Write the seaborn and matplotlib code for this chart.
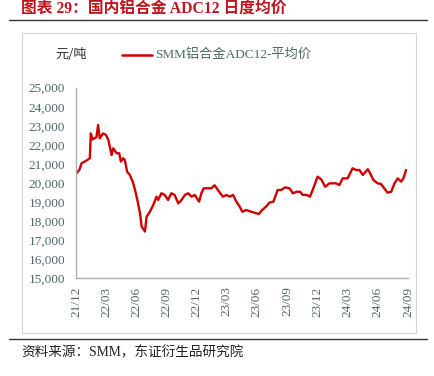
import pandas as pd
import matplotlib
matplotlib.use("Agg")
import matplotlib.pyplot as plt
import matplotlib.dates as mdates
from matplotlib.lines import Line2D
from matplotlib.patches import Rectangle
import seaborn as sns

# --- dados (valores aproximados) ---
datas = [
    "2021-12-01", "2021-12-10", "2021-12-17", "2022-01-03", "2022-01-11",
    "2022-01-14", "2022-01-19", "2022-01-31", "2022-02-05", "2022-02-10",
    "2022-02-20", "2022-03-01", "2022-03-08", "2022-03-18", "2022-03-23",
    "2022-04-02", "2022-04-10", "2022-04-15", "2022-04-22", "2022-04-27",
    "2022-05-04", "2022-05-12", "2022-05-21", "2022-05-28", "2022-06-04",
    "2022-06-12", "2022-06-17", "2022-06-27", "2022-07-02", "2022-07-12",
    "2022-07-22", "2022-08-01", "2022-08-06", "2022-08-16", "2022-08-26",
    "2022-09-05", "2022-09-15", "2022-09-25", "2022-10-06", "2022-10-16",
    "2022-10-26", "2022-11-05", "2022-11-15", "2022-11-25", "2022-12-08",
    "2022-12-15", "2022-12-22", "2023-01-04", "2023-01-14", "2023-01-24",
    "2023-02-03", "2023-02-18", "2023-03-01", "2023-03-11", "2023-03-21",
    "2023-03-31", "2023-04-10", "2023-04-18", "2023-04-30", "2023-05-15",
    "2023-05-25", "2023-06-07", "2023-06-17", "2023-06-29", "2023-07-09",
    "2023-07-21", "2023-08-03", "2023-08-13", "2023-08-26", "2023-09-08",
    "2023-09-18", "2023-09-30", "2023-10-10", "2023-10-18", "2023-10-30",
    "2023-11-09", "2023-11-19", "2023-12-02", "2023-12-13", "2023-12-25",
    "2024-01-07", "2024-01-27", "2024-02-06", "2024-02-16", "2024-03-02",
    "2024-03-17", "2024-03-28", "2024-04-07", "2024-04-17", "2024-05-02",
    "2024-05-09", "2024-05-19", "2024-06-01", "2024-06-11", "2024-06-21",
    "2024-07-01", "2024-07-12", "2024-07-22", "2024-08-01", "2024-08-11",
    "2024-08-18", "2024-08-26",
]
precos = [
    20500, 20680, 21030, 21200, 21300,
    22600, 22290, 22400, 23040, 22340,
    22600, 22520, 22260, 21470, 21820,
    21560, 21560, 21120, 21300, 21200,
    20590, 20420, 20070, 19630, 19110,
    18410, 17710, 17450, 18230, 18490,
    18840, 19280, 19110, 19460, 19370,
    19110, 19460, 19370, 18930, 19110,
    19370, 19460, 19280, 19370, 19020,
    19460, 19720, 19720, 19720, 19880,
    19630, 19280, 19370, 19280, 19370,
    19020, 18760, 18490, 18580, 18490,
    18440, 18370, 18580, 18760, 18970,
    19020, 19630, 19630, 19770, 19720,
    19460, 19540, 19540, 19370, 19370,
    19280, 19720, 20330, 20190, 19800,
    19980, 19980, 19890, 20240, 20240,
    20770, 20680, 20680, 20420, 20720,
    20510, 20160, 19980, 19950, 19720,
    19490, 19540, 19980, 20240, 20070,
    20240, 20680,
]
ticks_x = ["2021-12-01", "2022-03-01", "2022-06-01", "2022-09-01",
           "2022-12-01", "2023-03-01", "2023-06-01", "2023-09-01",
           "2023-12-01", "2024-03-01", "2024-06-01", "2024-09-01"]
ticks_y = [15000, 16000, 17000, 18000, 19000, 20000,
           21000, 22000, 23000, 24000, 25000]

titulo = "图表 29：国内铝合金 ADC12 日度均价"
unidade = "元/吨"
serie = "SMM铝合金ADC12-平均价"
fonte = "资料来源：SMM，东证衍生品研究院"

df = pd.DataFrame({"data": pd.to_datetime(datas), "preco": precos})

sns.set_theme(style="white")
plt.rcParams["font.family"] = ["Liberation Serif", "Noto Sans CJK SC", "DejaVu Sans"]

COR_TEXTO = "#4f6868"
COR_LINHA = "#d00000"
COR_EIXO = "#a8b0b0"

fig = plt.figure(figsize=(4.35, 3.76), dpi=100)
ax = fig.add_axes([0.1754, 0.26, 0.7626, 0.5068])

sns.lineplot(data=df, x="data", y="preco", ax=ax, color=COR_LINHA, linewidth=1.7)

ax.set_xlim(pd.Timestamp(ticks_x[0]), pd.Timestamp(ticks_x[-1]))
ax.set_ylim(ticks_y[0], ticks_y[-1])
ax.set_xticks(pd.to_datetime(ticks_x))
ax.xaxis.set_major_formatter(mdates.DateFormatter("%y/%m"))
ax.set_yticks(ticks_y)
ax.set_yticklabels([f"{v:,}" for v in ticks_y])
ax.set_xlabel("")
ax.set_ylabel("")

for lado in ["top", "right"]:
    ax.spines[lado].set_visible(False)
for lado in ["left", "bottom"]:
    ax.spines[lado].set_color(COR_EIXO)
    ax.spines[lado].set_linewidth(1.0)

ax.tick_params(axis="both", direction="in", length=4, width=0.9, color=COR_EIXO,
               labelcolor=COR_TEXTO, labelsize=9.5)
ax.tick_params(axis="x", rotation=90, pad=6)
ax.tick_params(axis="y", pad=8)

# unidade e legenda
fig.text(55 / 435, 1 - 55 / 376, unidade, fontsize=9.5, color="#333333",
         va="center", ha="left", family=["Noto Sans CJK SC"])
fig.add_artist(Line2D([122 / 435, 152 / 435], [1 - 55 / 376] * 2,
                      color=COR_LINHA, linewidth=1.8))
fig.text(155 / 435, 1 - 55 / 376, serie, fontsize=9.5, color=COR_TEXTO,
         va="center", ha="left")

# moldura e linhas do layout
fig.add_artist(Rectangle((22 / 435, 1 - 333 / 376), (416 - 22) / 435, (333 - 33) / 376,
                         fill=False, edgecolor="#d4d4d4", linewidth=0.8))
fig.add_artist(Line2D([9 / 435, 427 / 435], [1 - 20 / 376] * 2, color="#333333", linewidth=1.0))
fig.add_artist(Line2D([9 / 435, 427 / 435], [1 - 339 / 376] * 2, color="#333333", linewidth=1.0))

fig.text(21 / 435, 1 - 9.5 / 376, titulo, fontsize=11.3, color="#c0141c",
         fontweight="bold", va="center", ha="left")
fig.text(21 / 435, 1 - 353 / 376, fonte, fontsize=9.8, color="#222222",
         va="center", ha="left")

plt.savefig("out.png", dpi=100)
